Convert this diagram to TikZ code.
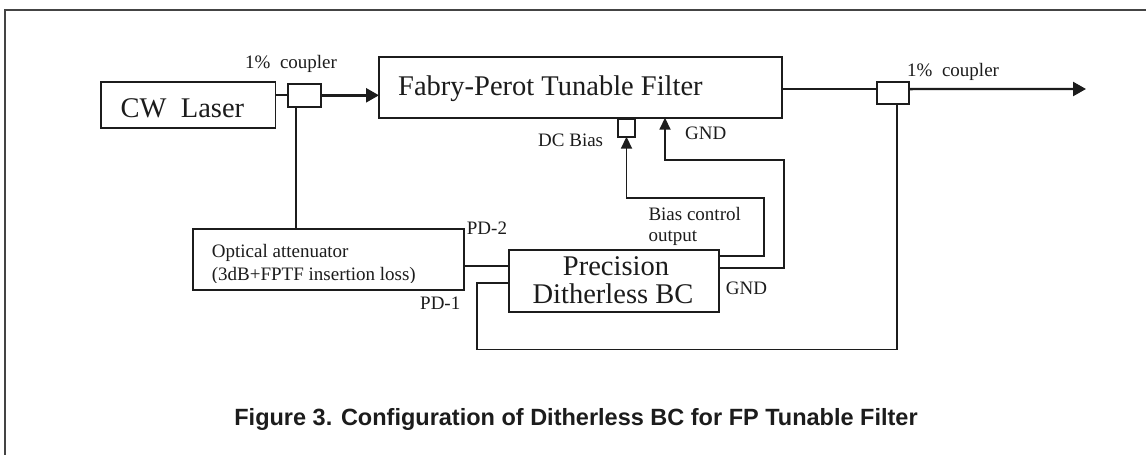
\documentclass[tikz,border=0pt]{standalone}
\usepackage{fontspec}
\setmainfont{Liberation Serif}
\newfontfamily\titlefont{Liberation Sans}
\usetikzlibrary{arrows.meta}
\definecolor{ink}{HTML}{1C1C1C}
\definecolor{framecol}{HTML}{444444}
\begin{document}
\begin{tikzpicture}[x=1pt,y=-1pt,
  box/.style={draw=ink, line width=1.8pt, inner sep=0pt, outer sep=0pt, rectangle},
  wire/.style={draw=ink, line width=1.7pt},
  thickarrow/.style={draw=ink, line width=2.4pt, -{Triangle[length=13pt,width=14pt]}},
  smallarrow/.style={draw=ink, line width=1.8pt, -{Triangle[length=12pt,width=11pt]}},
  bigtext/.style={inner sep=0pt, text=ink, font=\fontsize{28.5pt}{30pt}\selectfont},
  smalltext/.style={inner sep=0pt, text=ink, font=\fontsize{19pt}{21pt}\selectfont},
  titletext/.style={inner sep=0pt, text=ink, font=\titlefont\bfseries\fontsize{23.5pt}{26pt}\selectfont},
  frameline/.style={draw=framecol, line width=2pt}
]
\useasboundingbox (0,0) rectangle (1146,455);
\fill[white] (0,0) rectangle (1146,455);

% frame
\draw[frameline] (4.5,455) -- (4.5,9.8) -- (1146,9.8);

% boxes
\node[box, minimum width=174.5pt, minimum height=46.5pt] (laser) at (188.25,105) {};
\node[box, minimum width=33pt, minimum height=22.7pt] (c1) at (304.5,95.3) {};
\node[box, minimum width=403pt, minimum height=60.4pt] (fp) at (580.5,87.5) {};
\node[box, minimum width=32.3pt, minimum height=22.3pt] (c2) at (892.85,92.85) {};
\node[box, minimum width=17.6pt, minimum height=17.4pt] (dc) at (626.5,128) {};
\node[box, minimum width=271.6pt, minimum height=60.7pt] (att) at (328.5,259.35) {};
\node[box, minimum width=210.3pt, minimum height=61.4pt] (bc) at (614.15,281) {};

% coordinates
\coordinate (o1) at ([yshift=3.8pt]c2.west);
\coordinate (o2) at ([yshift=3.8pt]c2.east);
\coordinate (outend) at (1086,89);
\coordinate (loopbl) at (476.7,349.5);
\coordinate (bcr) at (764,198.3);
\coordinate (gndr) at (784.3,160);
\coordinate (fpgnd) at ([xshift=84.5pt]fp.south);
\coordinate (c1down) at ([xshift=-8.5pt]c1.south);
\coordinate (attout) at ([yshift=-6.3pt]att.east);

% connectors
\draw[wire] (laser.east |- c1.west) -- (c1.west);
\draw[thickarrow] (c1.east) -- (c1.east -| fp.west);
\draw[wire] (fp.east |- o1) -- (o1);
\draw[thickarrow] (o2) -- (outend);
\draw[wire] (c1down) -- (c1down |- att.north);
\draw[wire] (attout) -- (attout -| bc.west);
\draw[wire] ([xshift=3.8pt]c2.south) |- (loopbl) |- ([yshift=-1.7pt]bc.west);
\draw[smallarrow] ([yshift=25.3pt]bc.east) -| (bcr) -| (dc.south);
\draw[smallarrow] ([yshift=13.3pt]bc.east) -| (gndr) -| (fpgnd);

% labels
\node[bigtext, anchor=base west] (tlaser) at (120.5,117.3) {CW\hspace{0.5em}Laser};
\node[bigtext, anchor=base west] (tfp) at (398,95) {Fabry-Perot Tunable Filter};
\node[smalltext, anchor=base west] (tc1) at (245,68) {1\%\hspace{0.5em}coupler};
\node[smalltext, anchor=base west] (tc2) at (907,76.7) {1\%\hspace{0.5em}coupler};
\node[smalltext, anchor=base west] (tdc) at (538,146.7) {DC Bias};
\node[smalltext, anchor=base west] (tgnd1) at (685,139.3) {GND};
\node[smalltext, anchor=base west] (tgnd2) at (725.7,294) {GND};
\node[smalltext, anchor=base west] (tbias1) at (648.3,220) {Bias control};
\node[smalltext, anchor=base west] (tbias2) at (648.3,241) {output};
\node[smalltext, anchor=base west] (tpd2) at (466.7,234.3) {PD-2};
\node[smalltext, anchor=base west] (tpd1) at (420,309.3) {PD-1};
\node[smalltext, anchor=base west] (tatt1) at (211.7,257.3) {Optical attenuator};
\begin{scope}
\clip (193,230) rectangle (464,282.5);
\node[smalltext, anchor=base west] (tatt2) at (211.7,280) {(3dB+FPTF insertion loss)};
\end{scope}
\node[bigtext, anchor=base] (tbc1) at (616,275.7) {Precision};
\node[bigtext, anchor=base] (tbc2) at (613,303.3) {Ditherless BC};
\node[titletext, anchor=base] (title) at (576,425) {Figure 3. Configuration of Ditherless BC for FP Tunable Filter};
\end{tikzpicture}
\end{document}
